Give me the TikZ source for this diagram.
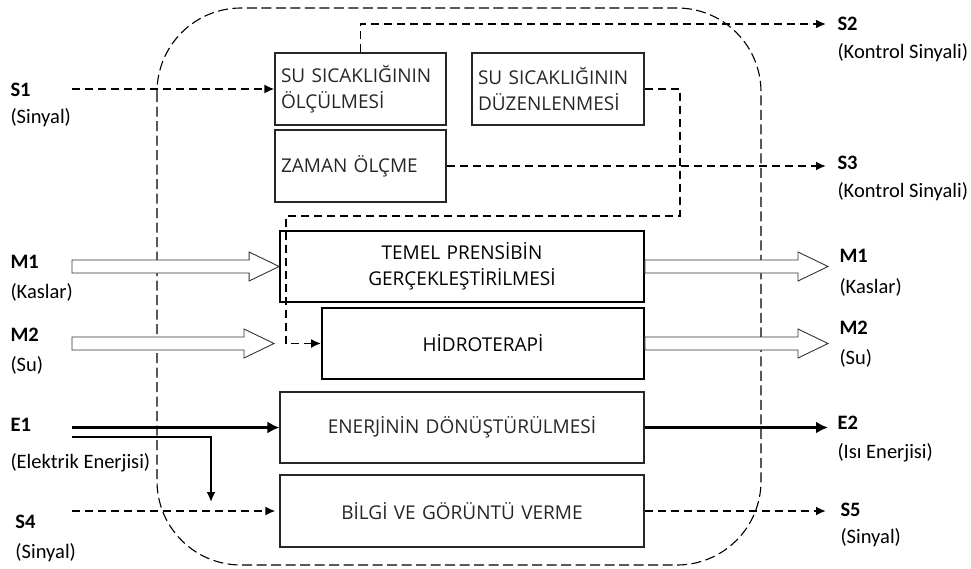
\documentclass[tikz,border=0pt]{standalone}
\usepackage{fontspec}
\setmainfont{Open Sans}
\newfontfamily\labelfont{Carlito}
\usetikzlibrary{arrows.meta}
\usetikzlibrary{calc}

% hollow block arrow between two points
\newcommand{\hollowarrow}[2]{%
    \draw[color=black!80, line width=0.9pt, fill=white]
        let \p1 = (#1), \p2 = (#2) in
        (\x1, \y1 + 6.5pt) -- (\x2 - 30pt, \y1 + 6.5pt) -- (\x2 - 30pt, \y1 + 14.5pt) -- (\x2, \y1)
        -- (\x2 - 30pt, \y1 - 14.5pt) -- (\x2 - 30pt, \y1 - 6.5pt) -- (\x1, \y1 - 6.5pt) -- cycle;}

\begin{document}
\begin{tikzpicture}[x=1pt, y=-1pt, line width=1pt,
    box/.style={draw, line width=1.1pt, minimum height=72pt, inner xsep=6pt, inner ysep=0pt,
        font=\fontsize{19}{26}\selectfont, color=black!85},
    thickbox/.style={box, line width=1.8pt, color=black},
    sig/.style={anchor=west, inner sep=0pt, font=\labelfont\bfseries\fontsize{20.5}{24}\selectfont},
    sigtext/.style={anchor=west, inner sep=0pt, font=\labelfont\fontsize{20.5}{24}\selectfont},
    signal/.style={line width=1.9pt, dash pattern=on 8pt off 5pt, -{Latex[length=10pt, width=9pt]}},
    frame/.style={line width=1.1pt, dash pattern=on 10pt off 4.5pt}]
    \useasboundingbox (0, 0) rectangle (971, 568);

    % draw outer dashed border
    \draw[frame, rounded corners=84pt] (157, 8) rectangle (761, 565);

    % draw function boxes
    \node[box, text width=159pt, align=left] (olcme) at (360.5, 89) {SU SICAKLIĞININ\\ÖLÇÜLMESİ};
    \node[box, text width=160pt, align=left] (duzen) at (558, 89) {SU SICAKLIĞININ\\DÜZENLENMESİ};
    \node[box, text width=159pt, align=left] (zaman) at (360.5, 166) {ZAMAN ÖLÇME};
    \node[thickbox, text width=352pt, align=center, minimum height=71pt] (temel) at (462, 266.5) {TEMEL PRENSİBİN\\GERÇEKLEŞTİRİLMESİ};
    \node[thickbox, text width=310pt, align=center, minimum height=71pt] (hidro) at (483, 343.5) {HİDROTERAPİ};
    \node[box, text width=352pt, align=center, minimum height=71pt] (enerji) at (462, 427.5) {ENERJİNİN DÖNÜŞTÜRÜLMESİ};
    \node[box, text width=352pt, align=center] (bilgi) at (462, 511) {BİLGİ VE GÖRÜNTÜ VERME};

    % draw flow labels
    \node[sig] (s1) at (10, 90) {S1};
    \node[sigtext] (s1t) at (10, 118) {(Sinyal)};
    \node[sig] (s2) at (837, 24) {S2};
    \node[sigtext] (s2t) at (837, 53) {(Kontrol Sinyali)};
    \node[sig] (s3) at (837, 163) {S3};
    \node[sigtext] (s3t) at (837, 192) {(Kontrol Sinyali)};
    \node[sig] (m1in) at (10, 262) {M1};
    \node[sigtext] (m1int) at (10, 292) {(Kaslar)};
    \node[sig] (m1out) at (839, 256) {M1};
    \node[sigtext] (m1outt) at (839, 287) {(Kaslar)};
    \node[sig] (m2in) at (10, 335) {M2};
    \node[sigtext] (m2int) at (10, 365) {(Su)};
    \node[sig] (m2out) at (839, 328) {M2};
    \node[sigtext] (m2outt) at (839, 358) {(Su)};
    \node[sig] (e1) at (10, 425) {E1};
    \node[sigtext] (e1t) at (10, 463) {(Elektrik Enerjisi)};
    \node[sig] (e2) at (837, 423) {E2};
    \node[sigtext] (e2t) at (837, 453) {(Isı Enerjisi)};
    \node[sig] (s4) at (15, 522) {S4};
    \node[sigtext] (s4t) at (15, 553) {(Sinyal)};
    \node[sig] (s5) at (840, 510) {S5};
    \node[sigtext] (s5t) at (840, 538) {(Sinyal)};

    % free ends of the connectors
    \coordinate (s1start) at (72, 89);
    \coordinate (s2end) at (826, 24);
    \coordinate (s3end) at (826, 166);
    \coordinate (m1start) at (72, 266.5);
    \coordinate (m1end) at (828, 266.5);
    \coordinate (m2start) at (72, 343.5);
    \coordinate (m2tip) at (274, 343.5);
    \coordinate (m2end) at (828, 343.5);
    \coordinate (e1start) at (72, 427.5);
    \coordinate (e1branch) at (72, 437);
    \coordinate (e1drop) at (211, 502);
    \coordinate (e2end) at (828, 427.5);
    \coordinate (s4start) at (72, 511);
    \coordinate (s5end) at (826, 511);
    \coordinate (loopright) at (680, 216);
    \coordinate (loopleft) at (286, 216);

    % draw signal flows
    \draw[signal] (s1start) -- (olcme.west);
    \draw[signal] (olcme.north) |- (s2end);
    \draw[signal] (zaman.east) -- (s3end);
    \draw[signal] (duzen.east) -| (loopright) -- (loopleft) |- (hidro.west);
    \draw[signal, shorten >=4pt] (s4start) -- (bilgi.west);
    \draw[signal] (bilgi.east) -- (s5end);

    % draw material flows
    \hollowarrow{m1start}{temel.west}
    \hollowarrow{temel.east}{m1end}
    \hollowarrow{m2start}{m2tip}
    \hollowarrow{hidro.east}{m2end}

    % draw energy flows
    \draw[line width=3.5pt, -{Latex[length=12pt, width=12pt]}] (e1start) -- (enerji.west);
    \draw[line width=1.8pt, -{Latex[length=10pt, width=9pt]}] (e1branch) -| (e1drop);
    \draw[line width=3.5pt, -{Latex[length=12pt, width=12pt]}] (enerji.east) -- (e2end);

\end{tikzpicture}
\end{document}
